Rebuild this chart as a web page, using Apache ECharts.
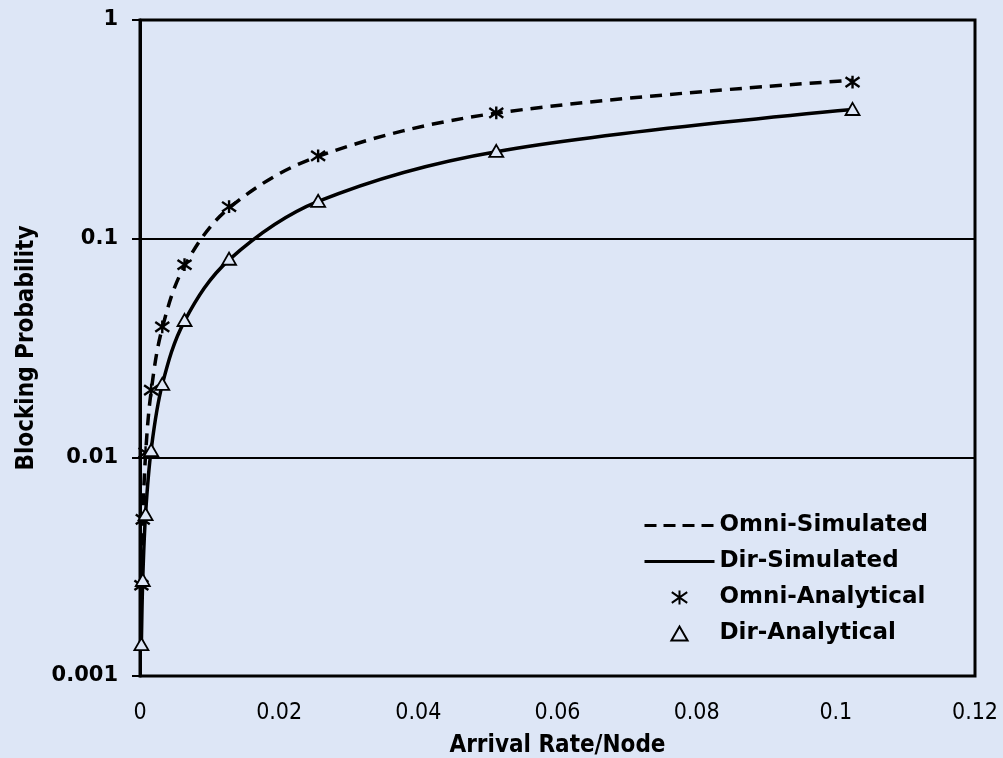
<!DOCTYPE html>
<html>
<head>
<meta charset="utf-8">
<script src="https://cdn.jsdelivr.net/npm/echarts@6/dist/echarts.min.js"></script>
<style>
  html, body { margin: 0; padding: 0; background: #dde6f6; }
  #chart { width: 1003px; height: 758px; }
</style>
</head>
<body>
<div id="chart"></div>
<script>
// arrival rate per node (x) - doubling steps
var arrivalRate = [0.0002, 0.0004, 0.0008, 0.0016, 0.0032, 0.0064, 0.0128, 0.0256, 0.0512, 0.1024];

// blocking probability
var omniSimulated  = [0.0026, 0.0051, 0.0103, 0.0200, 0.0390, 0.0750, 0.138, 0.238, 0.375, 0.530];
var dirSimulated   = [0.0014, 0.0028, 0.0055, 0.0108, 0.0215, 0.0420, 0.080, 0.148, 0.250, 0.390];
var omniAnalytical = [0.0026, 0.0052, 0.0105, 0.0203, 0.0395, 0.0760, 0.140, 0.239, 0.376, 0.520];
var dirAnalytical  = [0.0014, 0.00275, 0.0055, 0.0108, 0.0217, 0.0425, 0.081, 0.149, 0.252, 0.392];

var xTicks = [0, 0.02, 0.04, 0.06, 0.08, 0.1, 0.12];
var yTicks = [0.001, 0.01, 0.1, 1];

function pairs(xs, ys) {
	return xs.map(function (x, i) { return [x, ys[i]]; });
}

var bg = '#dde6f6';
var starPath = 'path://M6,0L6,10M0.5,1.2L11.5,8.8M0.5,8.8L11.5,1.2';
var triPath = 'path://M5,0L10,8.66L0,8.66Z';
var hideSymbol = { color: 'rgba(0,0,0,0)', borderColor: 'rgba(0,0,0,0)', borderWidth: 0 };

var myChart = echarts.init(document.getElementById('chart'));

var option = {
	backgroundColor: bg,
	animation: false,
	grid: {
		left: 140, right: 28, top: 20, bottom: 82,
		outerBoundsMode: 'none',
		containLabel: false,
		show: true, borderColor: '#000', borderWidth: 3,
		backgroundColor: 'transparent'
	},
	legend: {
		orient: 'vertical',
		left: 638, top: 509,
		itemWidth: 70, itemHeight: 14, itemGap: 13,
		textStyle: { fontFamily: 'DejaVu Sans', fontWeight: 'bold', fontSize: 23, color: '#000' },
		data: [
			{ name: 'Omni-Simulated', itemStyle: hideSymbol, lineStyle: { width: 3, type: [12, 7] } },
			{ name: 'Dir-Simulated', itemStyle: hideSymbol, lineStyle: { width: 3 } },
			{ name: 'Omni-Analytical' },
			{ name: 'Dir-Analytical' }
		]
	},
	xAxis: {
		type: 'value',
		min: xTicks[0], max: xTicks[xTicks.length - 1], interval: 0.02,
		name: 'Arrival Rate/Node',
		nameLocation: 'middle',
		nameGap: 58,
		nameTextStyle: { fontFamily: 'DejaVu Sans Condensed', fontWeight: 'bold', fontSize: 24, color: '#000' },
		axisLine: { show: false },
		axisTick: { show: false },
		splitLine: { show: false },
		axisLabel: {
			margin: 26,
			fontFamily: 'DejaVu Sans Condensed', fontSize: 23, color: '#000',
			formatter: function (v) { return String(Number(v.toFixed(2))); }
		}
	},
	yAxis: {
		type: 'log',
		logBase: 10,
		min: yTicks[0], max: yTicks[yTicks.length - 1],
		name: 'Blocking Probability',
		nameLocation: 'middle',
		nameGap: 101,
		nameTextStyle: { fontFamily: 'DejaVu Sans Condensed', fontWeight: 'bold', fontSize: 24, color: '#000' },
		axisLine: { show: true, lineStyle: { color: '#000', width: 3 } },
		axisTick: { show: true, length: 8, lineStyle: { color: '#000', width: 2 } },
		splitLine: { show: true, lineStyle: { color: '#000', width: 2 } },
		minorTick: { show: false },
		axisLabel: {
			margin: 22,
			fontFamily: 'DejaVu Sans', fontWeight: 'bold', fontSize: 21, color: '#000',
			formatter: function (v) { return String(Number(v.toPrecision(3))); }
		}
	},
	series: [
		{
			name: 'Omni-Simulated',
			type: 'line',
			smooth: 0.35,
			symbol: 'none',
			data: pairs(arrivalRate, omniSimulated),
			lineStyle: { color: '#000', width: 3.5, type: [12, 8] },
			itemStyle: { color: '#000' },
			z: 2
		},
		{
			name: 'Dir-Simulated',
			type: 'line',
			smooth: 0.35,
			symbol: 'none',
			data: pairs(arrivalRate, dirSimulated),
			lineStyle: { color: '#000', width: 3.5 },
			itemStyle: { color: '#000' },
			z: 2
		},
		{
			name: 'Omni-Analytical',
			type: 'scatter',
			symbol: starPath,
			symbolSize: 14,
			symbolKeepAspect: true,
			data: pairs(arrivalRate, omniAnalytical),
			itemStyle: { color: 'none', borderColor: '#000', borderWidth: 2.4, opacity: 1 },
			z: 3
		},
		{
			name: 'Dir-Analytical',
			type: 'scatter',
			symbol: triPath,
			symbolSize: 14,
			symbolKeepAspect: true,
			data: pairs(arrivalRate, dirAnalytical),
			itemStyle: { color: bg, borderColor: '#000', borderWidth: 1.8, opacity: 1 },
			z: 3
		}
	]
};

myChart.setOption(option);
</script>
</body>
</html>
